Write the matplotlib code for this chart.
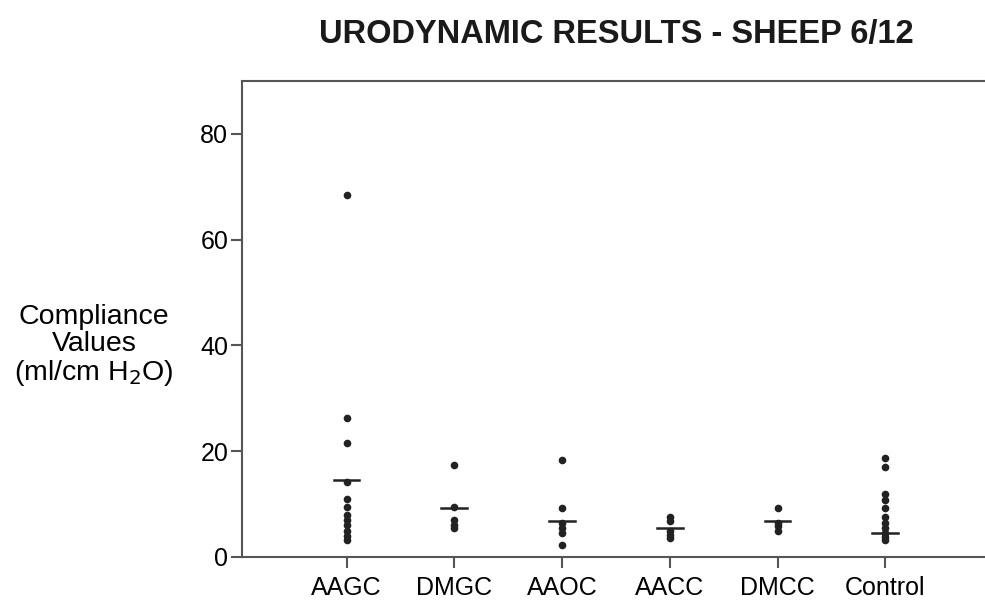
import numpy as np
import matplotlib.pyplot as plt

plt.rcParams['font.family'] = ['Liberation Sans', 'DejaVu Sans']

groups = ['AAGC', 'DMGC', 'AAOC', 'AACC', 'DMCC', 'Control']
aagc = [68.5, 26.3, 21.5, 14.2, 11.0, 9.5, 8.0, 7.0, 6.0, 5.0, 4.0, 3.3]
dmgc = [17.3, 9.5, 7.0, 6.0, 5.5]
aaoc = [18.3, 9.3, 6.5, 5.5, 4.5, 2.2]
aacc = [7.5, 6.8, 5.0, 4.2, 3.6]
dmcc = [9.3, 6.5, 5.8, 5.0]
control = [18.8, 17.0, 12.0, 10.8, 9.3, 7.5, 6.5, 5.5, 4.5, 3.8, 3.2]
medians = [14.5, 9.2, 6.8, 5.5, 6.8, 4.5]
yticks = [0, 20, 40, 60, 80]

values = [aagc, dmgc, aaoc, aacc, dmcc, control]

fig = plt.figure(figsize=(9.85, 6.11), dpi=100)
ax = fig.add_axes([0.2457, 0.0884, 0.7743, 0.779])

dark = '#222222'
for i, vals in enumerate(values):
    x = np.full(len(vals), i + 1)
    ax.plot(x, vals, 'o', color=dark, markersize=5.5, markeredgewidth=0)
    ax.plot([i + 1 - 0.12, i + 1 + 0.12], [medians[i], medians[i]], '-', color=dark, lw=1.8)

ax.set_xlim(0.03, 0.03 + 763 / 107.8)
ax.set_ylim(0, 90)
ax.set_xticks(range(1, len(groups) + 1))
ax.set_xticklabels(groups)
ax.set_yticks(yticks)
ax.tick_params(axis='both', direction='out', length=8, width=1.5, color='#555555',
               labelsize=18, pad=6)
ax.tick_params(axis='y', pad=2)
for spine in ['top', 'right', 'bottom', 'left']:
    ax.spines[spine].set_color('#555555')
    ax.spines[spine].set_linewidth(1.5)

fig.text(94 / 985, 1 - 346 / 611, 'Compliance\nValues\n(ml/cm H$_2$O)', ha='center', va='center',
         multialignment='center', fontsize=20.5, linespacing=1.07)
fig.text(616 / 985, 1 - 34 / 611, 'URODYNAMIC RESULTS - SHEEP 6/12', ha='center', va='center',
         fontsize=23.5, fontweight='bold', color='#1a1a1a')

plt.savefig('out.png', dpi=100)
